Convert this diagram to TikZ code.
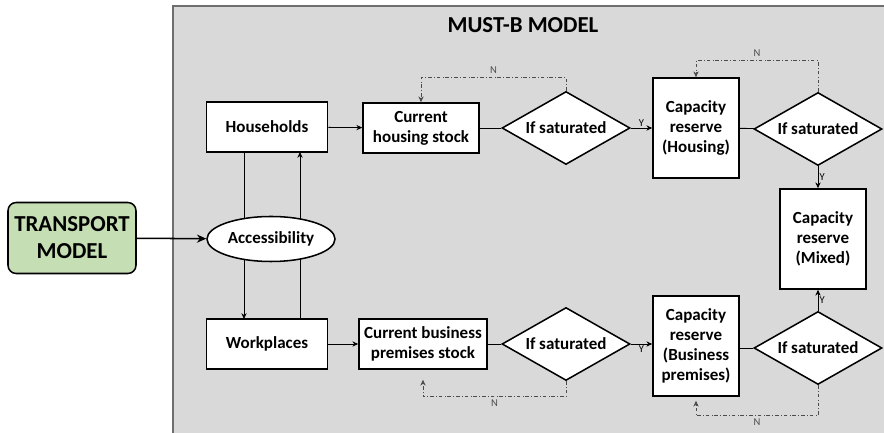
\documentclass[tikz,border=0pt]{standalone}
\usepackage{fontspec}
\setmainfont{Carlito}
\usetikzlibrary{shapes.geometric,arrows.meta}

\newlength\px
\setlength\px{0.03cm}

\definecolor{panelgray}{HTML}{D9D9D9}
\definecolor{panelline}{HTML}{6E6E6E}
\definecolor{modelgreen}{HTML}{C6DEB4}

\tikzset{
    box/.style={draw,line width=1.3pt,fill=white,align=center,font=\bfseries\fontsize{14.5}{17}\selectfont,inner sep=1pt},
    decision/.style={draw,line width=1.3pt,fill=white,diamond,aspect=1.75,inner sep=0pt,minimum width=128\px,minimum height=73\px,font=\bfseries\fontsize{14.5}{17}\selectfont},
    flow/.style={line width=0.7pt,-{Stealth[length=5pt,width=4.5pt]}},
    loopback/.style={dash dot,line width=0.6pt,black!70,-{Stealth[length=5pt,width=4.5pt]}},
    yn/.style={font=\fontsize{9}{10}\selectfont,inner sep=1pt}
}

\begin{document}
\begin{tikzpicture}[x=1\px,y=-1\px]
    \useasboundingbox (0,0) rectangle (884,433);

    % MUST-B panel
    \fill[panelgray] (173,6) rectangle (884,433);
    \draw[panelline,line width=1.2pt] (173,433) -- (173,6) -- (884,6);
    \node[font=\bfseries\fontsize{19.5}{22}\selectfont] (title) at (523,25) {MUST-B MODEL};

    % transport model
    \node[draw,line width=1.3pt,fill=modelgreen,rounded corners=7pt,align=center,minimum width=128\px,minimum height=71\px,
        font=\bfseries\fontsize{19.5}{23}\selectfont] (transport) at (72,238) {TRANSPORT\\MODEL};

    % left column
    \node[box,minimum width=121\px,minimum height=50\px] (house) at (267,127) {Households};
    \node[box,minimum width=121\px,minimum height=50\px] (work) at (267,344) {Workplaces};
    \coordinate (hl) at (244,152);
    \coordinate (wl) at (244,319);
    \coordinate (hr) at (300,152);
    \coordinate (wr) at (300,319);
    \draw[flow] (hl) -- (wl);
    \draw[flow] (wr) -- (hr);
    \node[draw,line width=1.3pt,fill=white,ellipse,inner sep=0pt,minimum width=128\px,minimum height=45\px,
        font=\bfseries\fontsize{14.5}{17}\selectfont] (access) at (271,239) {Accessibility};
    \draw[-{Stealth[length=8pt,width=7pt]},line width=1.3pt] (transport) -- (access);

    % housing row
    \node[box,minimum width=116\px,minimum height=50\px] (hstock) at (421,128) {Current\\housing stock};
    \node[decision] (hsat) at (566,128) {If saturated};
    \node[box,minimum width=86\px,minimum height=100\px] (hres) at (696,128) {Capacity\\reserve\\(Housing)};
    \node[decision] (hsat2) at (818,129) {If saturated};

    % business row
    \node[box,minimum width=128\px,minimum height=50\px] (bstock) at (423,344) {Current business\\premises stock};
    \node[decision] (bsat) at (566,344) {If saturated};
    \node[box,minimum width=86\px,minimum height=100\px] (bres) at (696,346) {Capacity\\reserve\\(Business\\premises)};
    \node[decision] (bsat2) at (818,348) {If saturated};

    % mixed reserve
    \node[box,minimum width=86\px,minimum height=100\px] (mres) at (823,239) {Capacity\\reserve\\(Mixed)};

    % forward links
    \draw[flow] (house) -- (hstock);
    \draw[line width=0.7pt] (hstock) -- (hsat);
    \draw[flow] (hsat) -- node[yn,above] {Y} (hres);
    \draw[line width=0.7pt] (hres) -- (hsat2);
    \draw[flow] (work) -- (bstock);
    \draw[line width=0.7pt] (bstock) -- (bsat);
    \draw[flow] (bsat) -- node[yn,below] {Y} (bres.west |- bsat);
    \draw[line width=0.7pt] (bres.east |- bsat2) -- (bsat2);
    \draw[flow] (hsat2.south) -- node[yn,right] {Y} (hsat2.south |- mres.north);
    \draw[flow] (bsat2.north) -- node[yn,right] {Y} (bsat2.north |- mres.south);

    % N loops
    \draw[loopback] (hsat.north) -- ++(0,-13) -| node[yn,pos=0.25,above=2pt] {N} (hstock.north);
    \draw[loopback] (hsat2.north) -- ++(0,-31) -| node[yn,pos=0.25,above=2pt] {N} (hres.north);
    \draw[loopback] (bsat.south) -- ++(0,15) -| node[yn,pos=0.25,below=2pt] {N} ([yshift=-10\px]bstock.south);
    \draw[loopback] (bsat2.south) -- ++(0,30) -| node[yn,pos=0.25,below=2pt] {N} ([yshift=-4\px]bres.south);
\end{tikzpicture}
\end{document}
